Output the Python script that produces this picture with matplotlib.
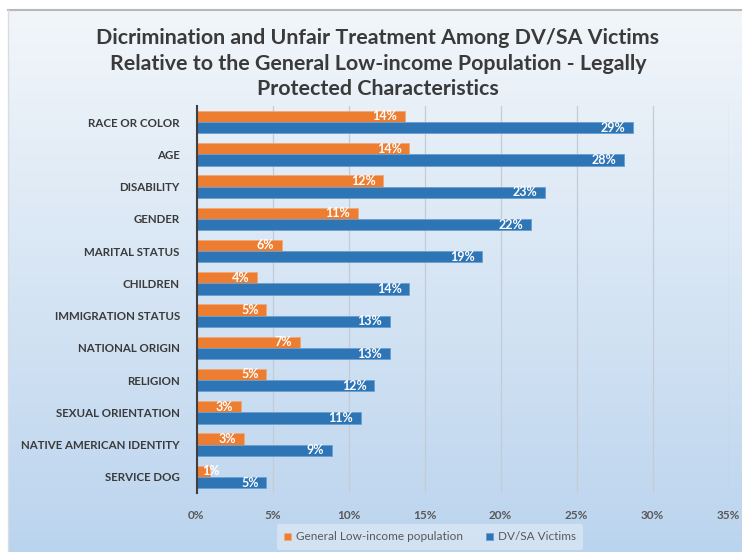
import matplotlib
matplotlib.use("Agg")
import matplotlib.pyplot as plt
import numpy as np

categories = ["RACE OR COLOR", "AGE", "DISABILITY", "GENDER", "MARITAL STATUS",
              "CHILDREN", "IMMIGRATION STATUS", "NATIONAL ORIGIN", "RELIGION",
              "SEXUAL ORIENTATION", "NATIVE AMERICAN IDENTITY", "SERVICE DOG"]
general = [13.7, 14.0, 12.3, 10.6, 5.6, 4.0, 4.6, 6.8, 4.6, 2.9, 3.1, 0.9]
victims = [28.7, 28.1, 22.9, 22.0, 18.8, 14.0, 12.7, 12.7, 11.7, 10.8, 8.9, 4.6]
series_names = ["General Low-income population", "DV/SA Victims"]
xticks = [0, 5, 10, 15, 20, 25, 30, 35]
title = ("Dicrimination and Unfair Treatment Among DV/SA Victims\n"
         "Relative to the General Low-income Population - Legally\n"
         "Protected Characteristics")

ORANGE = "#ED7D31"
BLUE = "#2E75B6"
TXT = "#3a3a3a"
FONT = "Lato"

W, H = 742, 552
fig = plt.figure(figsize=(W / 100, H / 100), dpi=100)
fig.patch.set_facecolor("white")

# gradient background panel
bg = fig.add_axes([8 / W, 0, 1 - 8 / W, (H - 10) / H], zorder=-10)
top = np.array([0xF2, 0xF6, 0xFA]) / 255
bot = np.array([0xBB, 0xD4, 0xEE]) / 255
t = np.linspace(0, 1, 256)[:, None]
grad = top[None, :] * (1 - t) + bot[None, :] * t
bg.imshow(grad[:, None, :], aspect="auto", extent=[0, 1, 0, 1], origin="upper")
bg.set_xlim(0, 1); bg.set_ylim(0, 1)
bg.set_xticks([]); bg.set_yticks([])
for s in bg.spines.values():
    s.set_visible(False)
bg.plot([0, 1], [1, 1], color="#b8b8b8", lw=1.5, transform=bg.transAxes, clip_on=False)
bg.plot([0, 0], [0, 1], color="#d8dde3", lw=1.0, transform=bg.transAxes, clip_on=False)

ax = fig.add_axes([196.5 / W, (H - 493) / H, 532 / W, 387 / H])
ax.set_facecolor("none")

n = len(categories)
y = np.arange(n)
h = 0.35
b1 = ax.barh(y - h / 2, general, height=h, color=ORANGE, edgecolor="#f3a878", linewidth=0.6, zorder=3,
             label=series_names[0])
b2 = ax.barh(y + h / 2, victims, height=h, color=BLUE, edgecolor="#6a9fd2", linewidth=0.6, zorder=3,
             label=series_names[1])

ax.set_xlim(0, 35)
ax.set_ylim(n - 0.5, -0.5)
ax.set_xticks(xticks)
ax.set_xticklabels([f"{v}%" for v in xticks], fontfamily=FONT, fontweight="bold",
                   fontsize=8.5, color="#595959")
ax.set_yticks(y)
ax.set_yticklabels(categories, fontfamily=FONT, fontweight="bold", fontsize=8.3, color=TXT)
ax.tick_params(axis="x", length=0, pad=12)
ax.tick_params(axis="y", length=0, pad=12)
ax.grid(axis="x", color="#c3ccd6", lw=0.9, zorder=0)
for s in ["top", "right", "bottom"]:
    ax.spines[s].set_visible(False)
ax.spines["left"].set_color("#404040")
ax.spines["left"].set_linewidth(1.5)
ax.spines["left"].set_zorder(5)

for vals, off in ((general, -h / 2), (victims, h / 2)):
    for i, v in enumerate(vals):
        lab = f"{int(v + 0.5):d}%"
        if v < 2:
            ax.text(0.4, i + off, lab, ha="left", va="center", color="white",
                    fontfamily=FONT, fontweight="bold", fontsize=9, zorder=4)
        else:
            ax.text(v - 0.5, i + off, lab, ha="right", va="center", color="white",
                    fontfamily=FONT, fontweight="bold", fontsize=9, zorder=4)

fig.text(378 / W, 1 - 63.5 / H, title, ha="center", va="center", fontfamily=FONT,
         fontweight="bold", fontsize=15.4, color=TXT, linespacing=1.33)

leg = fig.legend(handles=[b1, b2], labels=series_names, loc="center",
                 bbox_to_anchor=(430 / W, 15 / H), ncol=2, frameon=True,
                 prop={"family": FONT, "size": 8.5}, handlelength=0.6, handleheight=0.6,
                 handletextpad=0.4, columnspacing=2.0, borderpad=0.6)
leg.get_frame().set_facecolor("white")
leg.get_frame().set_alpha(0.35)
leg.get_frame().set_edgecolor("none")
for txt in leg.get_texts():
    txt.set_color("#595959")

fig.savefig("out.png", dpi=100)
